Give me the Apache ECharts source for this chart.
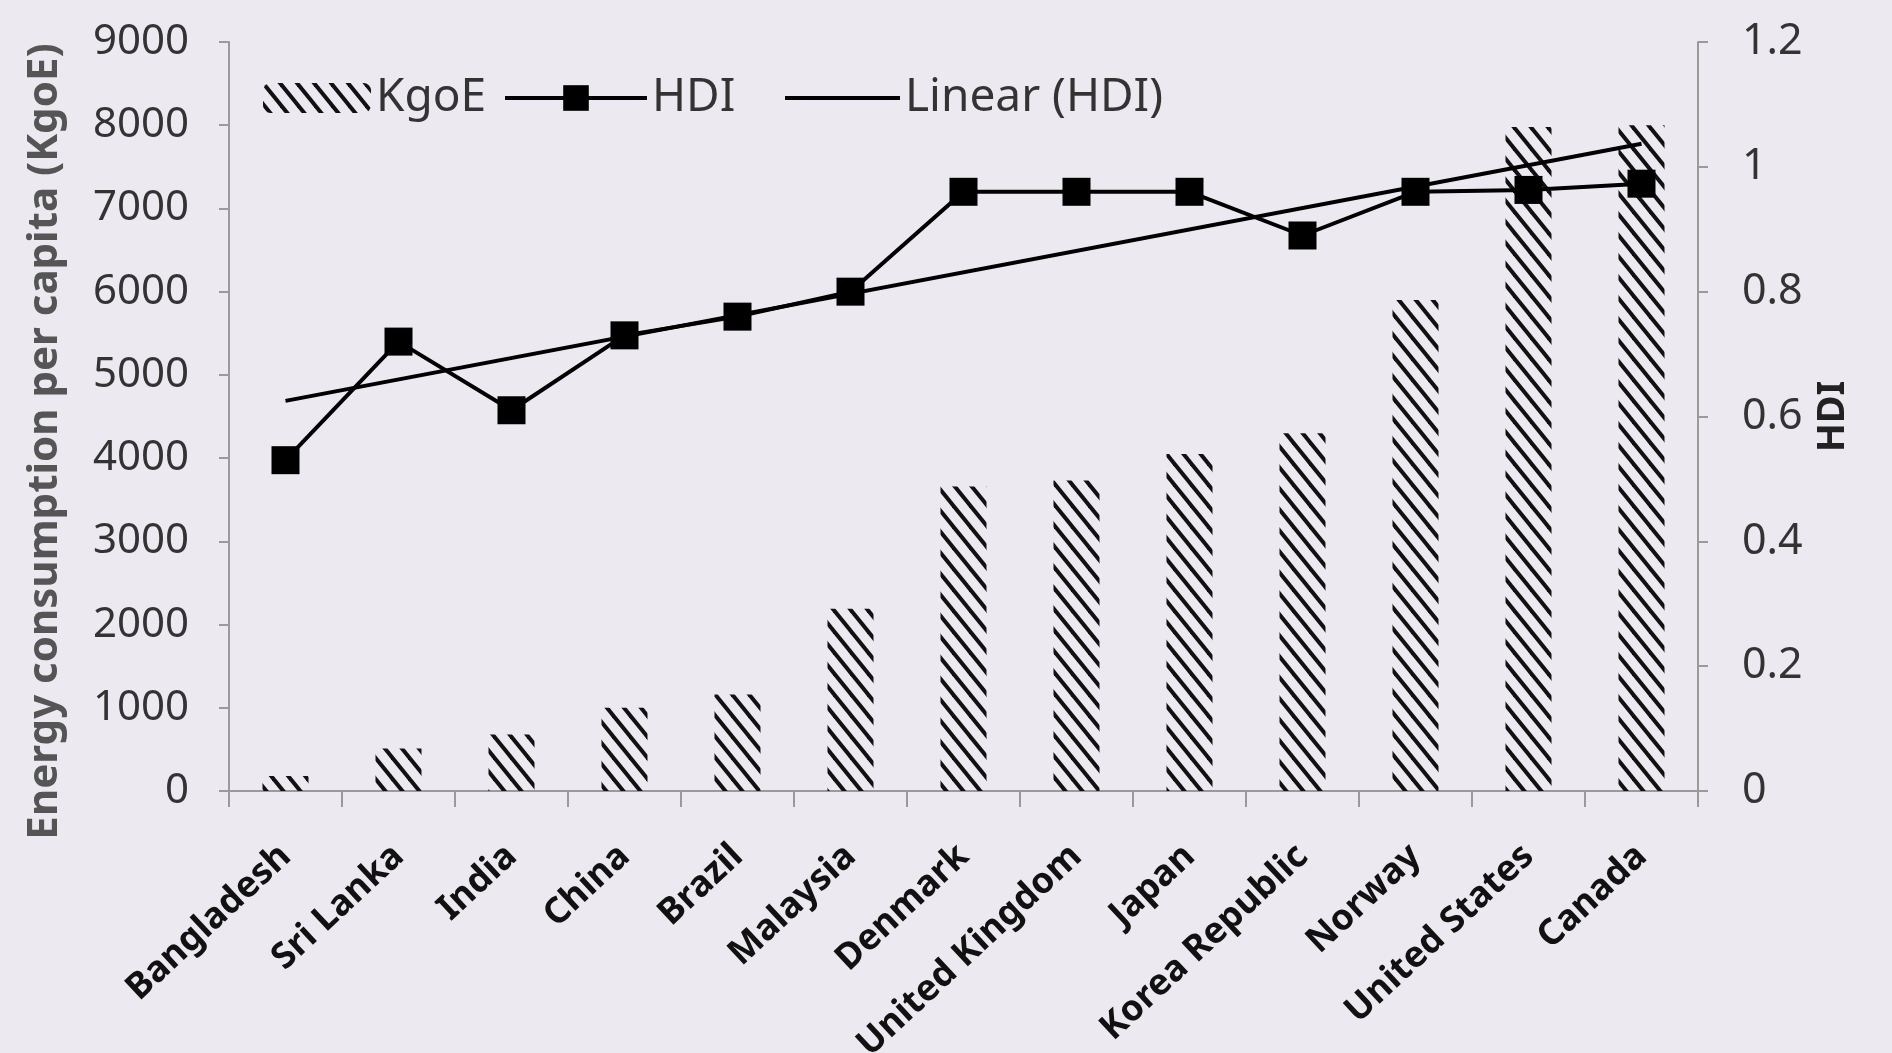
<!DOCTYPE html>
<html>
<head>
<meta charset="utf-8">
<script src="https://cdn.jsdelivr.net/npm/echarts@6/dist/echarts.min.js"></script>
<style>
html,body{margin:0;padding:0;background:#ECEAF0;}
#c{width:1892px;height:1053px;}
</style>
</head>
<body>
<div id="c"></div>
<script>
// ---- data ----
const categories = ['Bangladesh','Sri Lanka','India','China','Brazil','Malaysia','Denmark','United Kingdom','Japan','Korea Republic','Norway','United States','Canada'];
const kgoeValues = [180, 510, 680, 1000, 1160, 2190, 3660, 3730, 4050, 4300, 5900, 7980, 8000];
const hdiValues = [0.53, 0.72, 0.61, 0.73, 0.76, 0.80, 0.96, 0.96, 0.96, 0.89, 0.96, 0.963, 0.973];
const trendStart = 0.625;
const trendEnd = 1.037;
const leftTickLabels = ['0','1000','2000','3000','4000','5000','6000','7000','8000','9000'];
const rightTickLabels = ['0','0.2','0.4','0.6','0.8','1','1.2'];
const seriesNames = ['KgoE','HDI','Linear (HDI)'];
const leftAxisTitle = 'Energy consumption per capita (KgoE)';
const rightAxisTitle = 'HDI';

function makeHatch(){
  const w = 17, h = 21;
  const c = document.createElement('canvas');
  c.width = w; c.height = h;
  const g = c.getContext('2d');
  g.strokeStyle = '#111';
  g.lineWidth = 4;
  for (const k of [-1, 0, 1]) {
    g.beginPath();
    g.moveTo(-w, k*h - h);
    g.lineTo(2*w, 2*h + k*h);
    g.stroke();
  }
  return c;
}
const hatch = { image: makeHatch(), repeat: 'repeat' };

const FONT = 'Noto Sans';
const legendText = { fontSize: 46, color: '#333', fontFamily: FONT };
const chart = echarts.init(document.getElementById('c'), null, {renderer:'canvas'});
chart.setOption({
  backgroundColor: '#ECEAF0',
  animation: false,
  textStyle: { fontFamily: FONT },
  grid: { left: 229, right: 194, top: 42, bottom: 262, outerBoundsMode: 'none' },
  legend: [
    { left: 258, top: 70, itemWidth: 108, itemHeight: 30, textStyle: legendText,
      data: [seriesNames[0]] },
    { left: 498, top: 70, itemWidth: 142, itemHeight: 32, textStyle: legendText,
      lineStyle: { width: 4 },
      data: [seriesNames[1]] },
    { left: 778, top: 70, itemWidth: 115, itemHeight: 30, textStyle: legendText,
      lineStyle: { width: 4 },
      data: [{ name: seriesNames[2], itemStyle: { opacity: 0 } }] }
  ],
  xAxis: {
    type: 'category',
    data: categories,
    boundaryGap: true,
    axisLine: { lineStyle: { color: '#9a9a9a', width: 2 } },
    axisTick: { show: true, interval: 0, length: 16, lineStyle: { color: '#9a9a9a', width: 2 } },
    axisLabel: {
      interval: 0, rotate: 43, margin: 60,
      fontSize: 36, fontWeight: 'bold', color: '#111', fontFamily: FONT
    }
  },
  yAxis: [
    {
      type: 'value', min: 0, max: 9000, interval: 1000, position: 'left',
      name: leftAxisTitle, nameLocation: 'middle', nameRotate: 90, nameGap: 163,
      nameTextStyle: { fontSize: 42, fontWeight: 'bold', color: '#555', fontFamily: FONT, padding: [0, 50, 0, 0] },
      axisLine: { show: true, lineStyle: { color: '#9a9a9a', width: 2 } },
      axisTick: { show: true, length: 10, lineStyle: { color: '#9a9a9a', width: 2 } },
      splitLine: { show: false },
      axisLabel: {
        margin: 40, fontSize: 42, color: '#333', fontFamily: FONT,
        formatter: function (v) { return leftTickLabels[Math.round(v / 1000)]; }
      }
    },
    {
      type: 'value', min: 0, max: 1.2, interval: 0.2, position: 'right',
      name: rightAxisTitle, nameLocation: 'middle', nameRotate: 90, nameGap: 116,
      nameTextStyle: { fontSize: 38, fontWeight: 'bold', color: '#222', fontFamily: FONT },
      axisLine: { show: true, lineStyle: { color: '#9a9a9a', width: 2 } },
      axisTick: { show: true, length: 10, lineStyle: { color: '#9a9a9a', width: 2 } },
      splitLine: { show: false },
      axisLabel: {
        margin: 44, fontSize: 43, color: '#333', fontFamily: FONT,
        formatter: function (v) { return rightTickLabels[Math.round(v / 0.2)]; }
      }
    }
  ],
  series: [
    {
      name: seriesNames[0], type: 'bar', yAxisIndex: 0,
      data: kgoeValues, barWidth: 46,
      itemStyle: { color: hatch }
    },
    {
      name: seriesNames[1], type: 'line', yAxisIndex: 1,
      data: hdiValues,
      symbol: 'rect', symbolSize: 28,
      lineStyle: { color: '#000', width: 4 },
      itemStyle: { color: '#000' },
      z: 4
    },
    {
      name: seriesNames[2], type: 'line', yAxisIndex: 1,
      data: [[categories[0], trendStart], [categories[categories.length - 1], trendEnd]],
      symbol: 'none',
      lineStyle: { color: '#000', width: 4 },
      itemStyle: { color: '#000' },
      z: 3
    }
  ]
});
</script>
</body>
</html>
